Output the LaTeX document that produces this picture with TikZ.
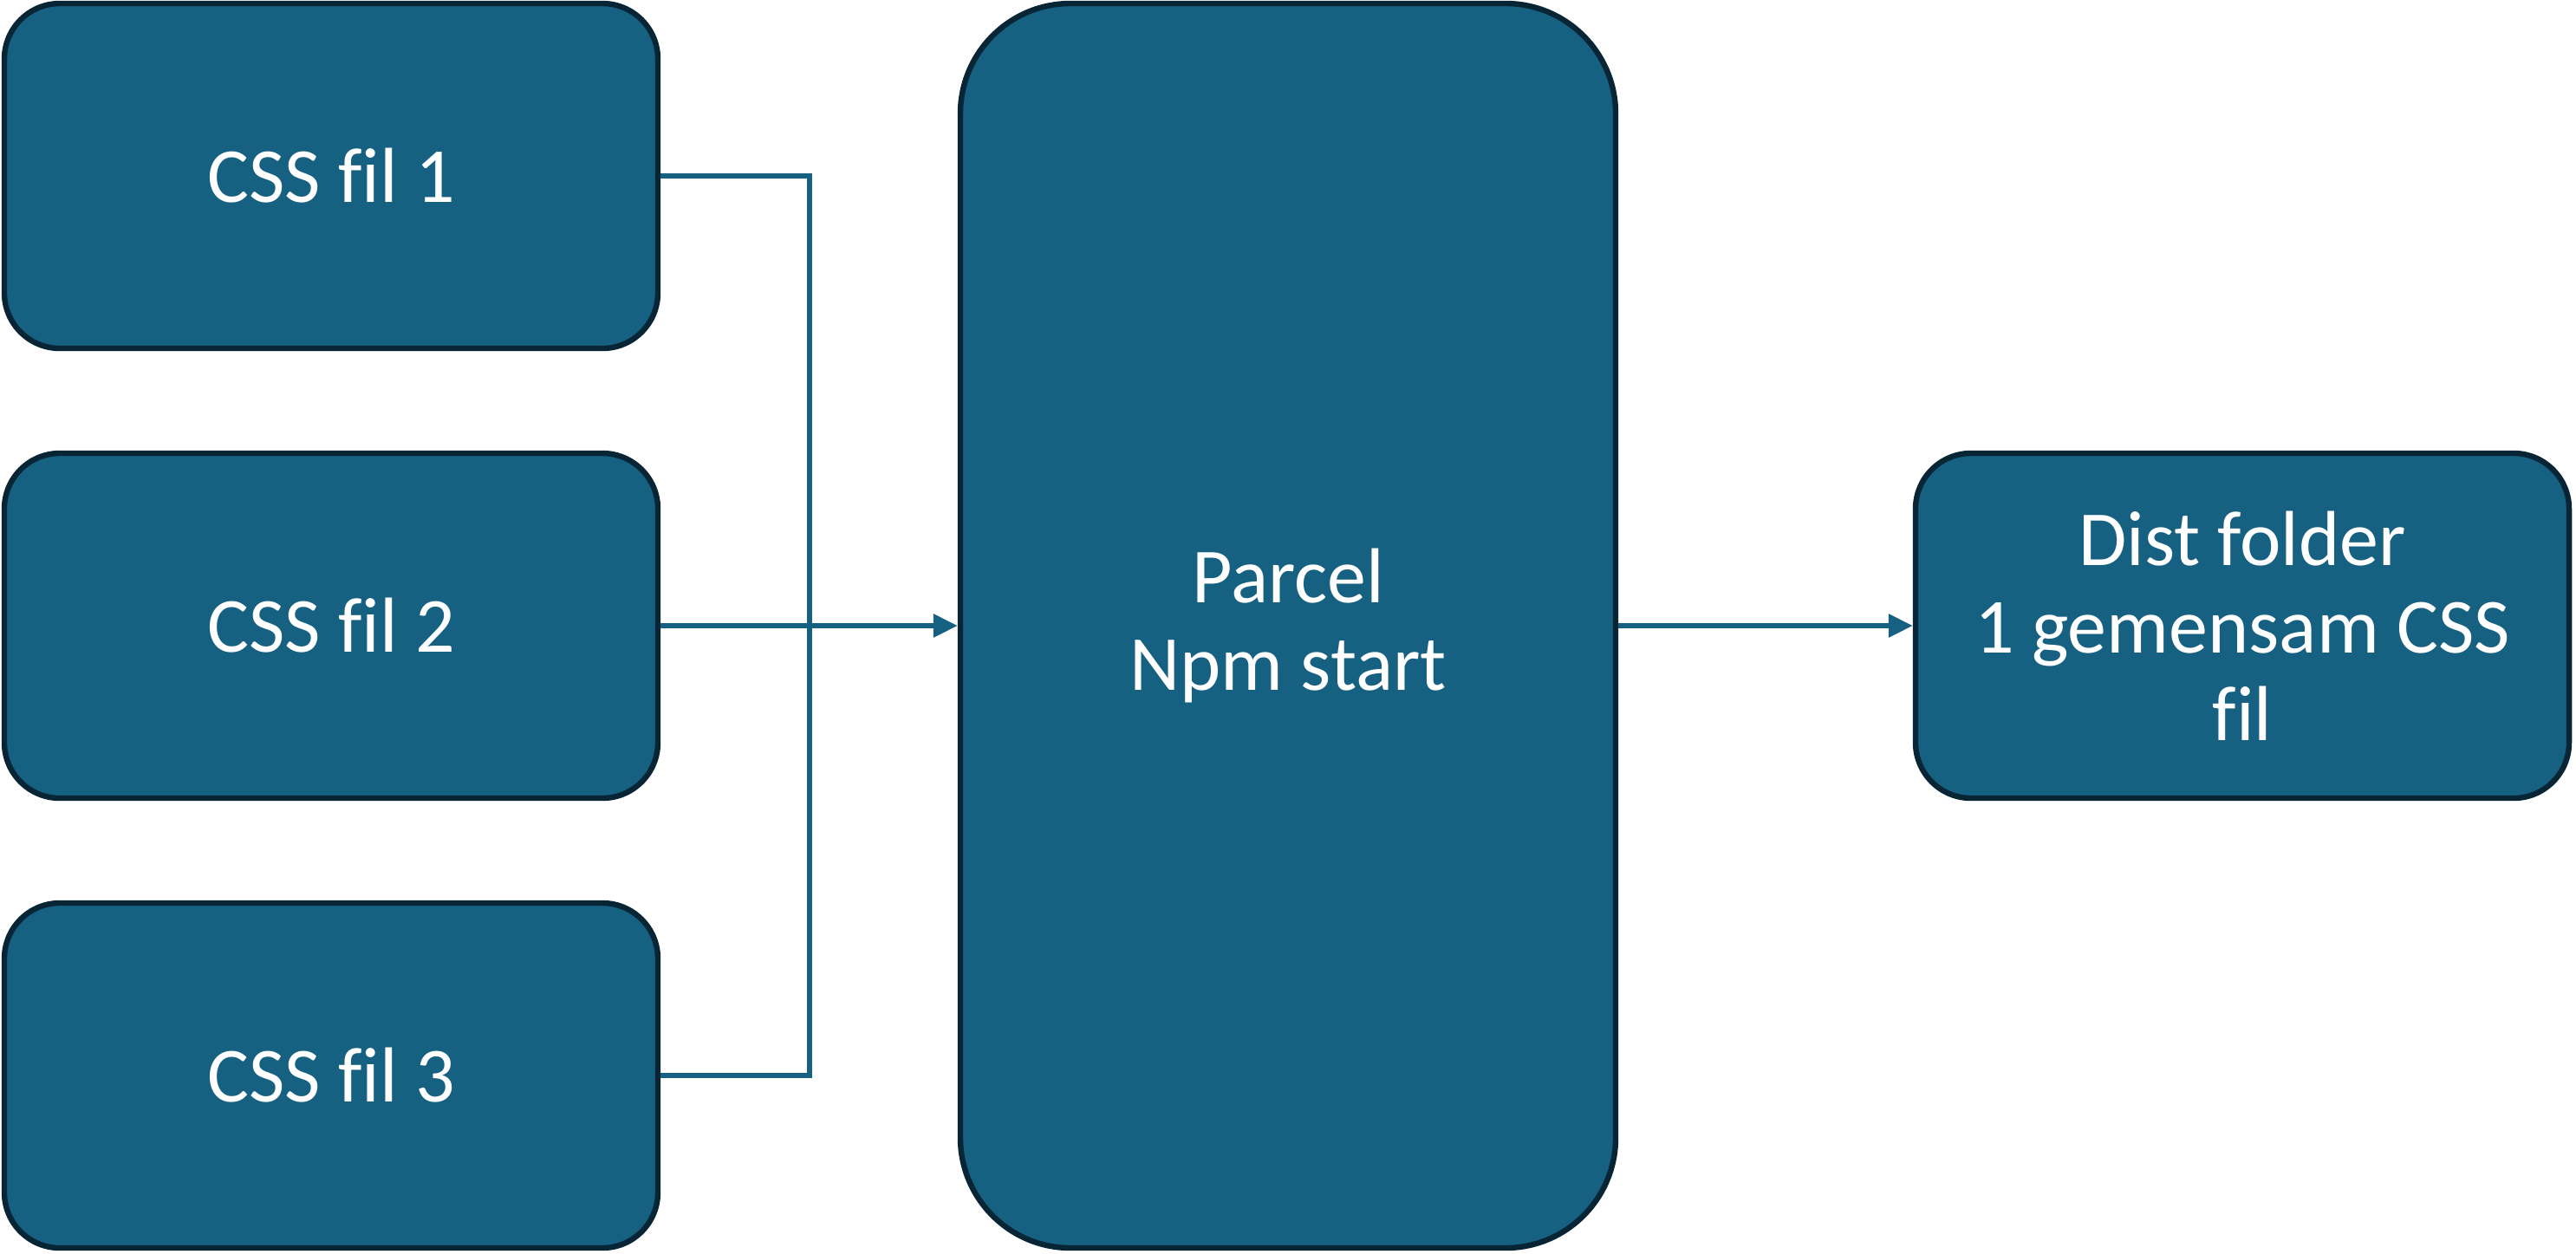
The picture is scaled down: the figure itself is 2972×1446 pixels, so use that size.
\documentclass[tikz,border=0pt]{standalone}
\usepackage{fontspec}
\setmainfont[Ligatures={NoCommon}]{Carlito}
\usetikzlibrary{arrows.meta}
\definecolor{boxfill}{HTML}{166082}
\definecolor{boxline}{HTML}{072535}
\definecolor{conn}{HTML}{166082}
\tikzset{
  stepbox/.style={draw=boxline, fill=boxfill, line width=1.6pt, rounded corners=16pt,
    minimum width=188.5pt, minimum height=99.5pt, inner sep=0pt, align=center,
    text=white, font=\fontsize{22.5}{25.25}\selectfont},
  bigbox/.style={stepbox, rounded corners=31.75pt, minimum width=189pt, minimum height=359pt},
  conline/.style={draw=conn, line width=1.5pt},
  conarrow/.style={conline, -{Triangle[length=7pt,width=6.5pt]}}
}
\begin{document}
\begin{tikzpicture}[x=0.25pt,y=-0.25pt]
\useasboundingbox (0,0) rectangle (2972,1446);
\node[stepbox] (c1) at (382,203) {CSS fil 1};
\node[stepbox] (c2) at (382,722) {CSS fil 2};
\node[stepbox] (c3) at (382,1241) {CSS fil 3};
\node[bigbox] (parcel) at (1486,722) {Parcel\\Npm start};
\node[stepbox] (dist) at (2587,722) {Dist folder\\1 gemensam CSS\\fil};
\coordinate (bus) at (934,203);
\draw[conline] (c1.east) -- (bus) |- (c3.east);
\draw[conarrow] (c2.east) -- (parcel.west);
\draw[conarrow] (parcel.east) -- (dist.west);
\end{tikzpicture}
\end{document}
